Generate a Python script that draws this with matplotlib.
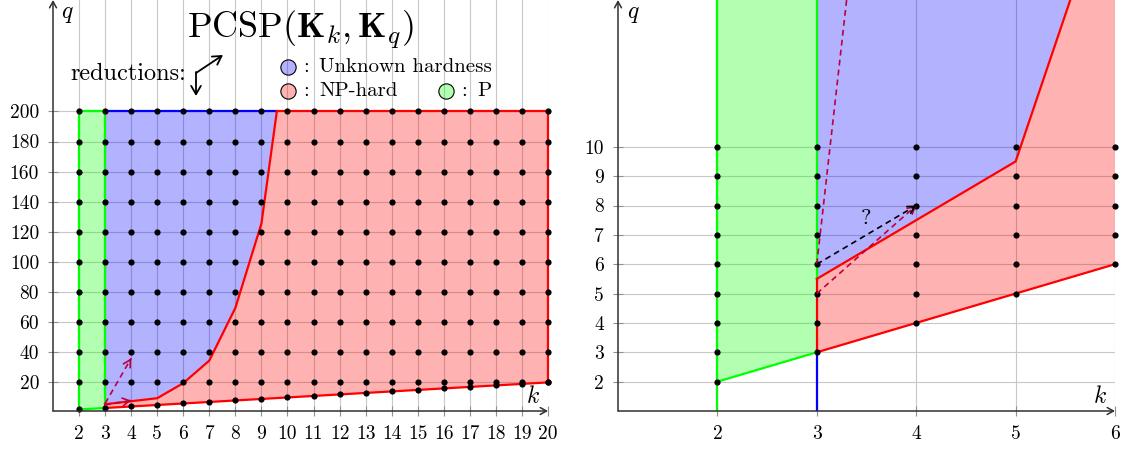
import numpy as np
import matplotlib
matplotlib.use("Agg")
from matplotlib import pyplot as plt

plt.rcParams["font.family"] = "serif"
plt.rcParams["font.serif"] = ["cmr10"]
plt.rcParams["mathtext.fontset"] = "cm"
plt.rcParams["axes.unicode_minus"] = False

# Boundaries of the known regions
q_top = 200
k_last = 20
hard_k = [3, 4, 5, 6, 7, 8, 9, 10]
hard_q = [5.5, 7.5, 9.5, 19.5, 34.5, 69.5, 125.5, 251.5]

# Dots (grid points)
left_k = list(range(2, 21))
left_q = list(range(20, 201, 20))
right_k = [2, 3, 4, 5, 6]
right_q_max = 10

# Reductions drawn as dashed arrows
purple_arrows = [((3, 5), (4, 8)), ((3, 6), (4, 36))]
question_arrow = ((3, 6), (4, 8))

PURPLE = "#bf0040"
RED = "#ff0000"
GREEN = "#00ff00"
BLUE = "#0000ff"
AXIS = "#303030"


def dashed_arrow(ax, start, end, color, lw=1.2):
    ax.plot([start[0], end[0]], [start[1], end[1]], ls=(0, (3.5, 2.5)), color=color, lw=lw, zorder=6)
    s = np.array(start, float)
    e = np.array(end, float)
    ax.annotate("", xy=tuple(e), xytext=tuple(s + 0.97 * (e - s)),
                arrowprops=dict(arrowstyle="->,head_length=0.5,head_width=0.28", color=color,
                                lw=lw, shrinkA=0, shrinkB=0), zorder=6)


def draw_panel(ax, xs, ys, xlim, ylim, xticks, yticks, question):
    k_cross = np.interp(q_top, hard_q, hard_k)
    curve_k = [k for k, q in zip(hard_k, hard_q) if q < q_top] + [k_cross]
    curve_q = [q for q in hard_q if q < q_top] + [q_top]

    # fills
    ax.fill([2, 3, 3, 2], [2, 3, q_top, q_top], color=GREEN, alpha=0.3, lw=0, zorder=2)
    ax.fill(curve_k + [3], curve_q + [q_top], color=BLUE, alpha=0.3, lw=0, zorder=2)
    ax.fill([3, k_last, k_last] + curve_k[::-1], [3, k_last, q_top] + curve_q[::-1],
            color=RED, alpha=0.3, lw=0, zorder=2)

    lw = 1.6
    # green borders
    ax.plot([2, 2], [ylim[0], q_top], color=GREEN, lw=lw, zorder=3)
    ax.plot([2, 3], [2, 3], color=GREEN, lw=lw, zorder=3)
    ax.plot([3, 3], [curve_q[0], q_top], color=GREEN, lw=lw, zorder=3)
    ax.plot([2, 3], [q_top, q_top], color=GREEN, lw=lw, zorder=3)
    # blue borders
    ax.plot([3, 3], [ylim[0], 3], color=BLUE, lw=lw, zorder=3)
    ax.plot([3, k_cross], [q_top, q_top], color=BLUE, lw=lw, zorder=3)
    # red borders
    ax.plot([3, 3], [3, curve_q[0]], color=RED, lw=lw, zorder=3)
    ax.plot([3, k_last], [3, k_last], color=RED, lw=lw, zorder=3)
    ax.plot(curve_k, curve_q, color=RED, lw=lw, zorder=3)
    ax.plot([k_cross, k_last], [q_top, q_top], color=RED, lw=lw, zorder=3)
    ax.plot([k_last, k_last], [k_last, q_top], color=RED, lw=lw, zorder=3, clip_on=False)

    ax.scatter(xs, ys, s=20, c="k", zorder=5, clip_on=False, linewidths=0)

    for a, b in purple_arrows:
        dashed_arrow(ax, a, b, PURPLE)
    if question:
        dashed_arrow(ax, question_arrow[0], question_arrow[1], "k")
        ax.text(3.5, 7.55, "?", fontsize=16, ha="center", va="center", zorder=7)

    ax.set_xlim(xlim)
    ax.set_ylim(ylim)
    ax.set_xticks(xticks)
    ax.set_yticks(yticks)
    ax.tick_params(direction="inout", length=7, width=0.8, color="#909090", labelsize=14, pad=6.5)
    ax.grid(True, color="#c8c8c8", lw=0.8)
    ax.set_axisbelow(True)
    for sp in ax.spines.values():
        sp.set_visible(False)
    arrow = dict(arrowstyle="->,head_length=0.45,head_width=0.25", color=AXIS, lw=1.1, shrinkA=0, shrinkB=0)
    ax.annotate("", xy=(1, 0), xytext=(0, 0), xycoords="axes fraction", arrowprops=arrow,
                annotation_clip=False, zorder=8)
    ax.annotate("", xy=(0, 1), xytext=(0, 0), xycoords="axes fraction", arrowprops=arrow,
                annotation_clip=False, zorder=8)
    ax.text(0.03, 0.965, "$q$", transform=ax.transAxes, fontsize=17, ha="center", va="center")
    ax.text(0.97, 0.035, "$k$", transform=ax.transAxes, fontsize=17, ha="center", va="center")


W, H = 1126, 449
fig = plt.figure(figsize=(W / 100, H / 100), dpi=100)

axL = fig.add_axes([53 / W, 38 / H, 495 / W, 411 / H])
xl, yl = [], []
for k in left_k:
    for q in [k] + left_q:
        xl.append(k)
        yl.append(q)
draw_panel(axL, xl, yl, (1, 20), (1, 274), left_k, left_q, False)

axR = fig.add_axes([618 / W, 38 / H, 497 / W, 411 / H])
xr, yr = [], []
for k in right_k:
    for q in range(k, right_q_max + 1):
        xr.append(k)
        yr.append(q)
draw_panel(axR, xr, yr, (1, 6), (1, 15), right_k, list(range(2, right_q_max + 1)), True)

# title and legend
fig.text(300 / W, 1 - 30 / H, r"$\mathrm{PCSP}(\mathbf{K}_k,\mathbf{K}_q)$", fontsize=26,
         ha="center", va="center")
fig.text(70 / W, 1 - 74 / H, "reductions:", fontsize=17.5, ha="left", va="center")
ar = dict(arrowstyle="->,head_length=0.6,head_width=0.35", color="k", lw=1.3, shrinkA=0, shrinkB=0)
axL.annotate("", xy=(223 / W, 1 - 55 / H), xytext=(196 / W, 1 - 73 / H), xycoords="figure fraction",
             arrowprops=ar, annotation_clip=False)
axL.annotate("", xy=(196 / W, 1 - 96 / H), xytext=(196 / W, 1 - 72 / H), xycoords="figure fraction",
             arrowprops=ar, annotation_clip=False)

legend_items = [((288, 67), BLUE, "Unknown hardness"),
                ((288, 91), RED, "NP-hard"),
                ((446, 91), GREEN, "P")]
for (px, py), col, label in legend_items:
    axL.plot(px / W, 1 - py / H, "o", transform=fig.transFigure, ms=11,
             mfc=matplotlib.colors.to_rgba(col, 0.3), mec="k", mew=0.8, clip_on=False, zorder=9)
    fig.text((px + 15) / W, 1 - py / H, ":", fontsize=15, ha="left", va="center")
    fig.text((px + 31) / W, 1 - py / H, label, fontsize=15, ha="left", va="center")

fig.savefig("out.png", dpi=100)
